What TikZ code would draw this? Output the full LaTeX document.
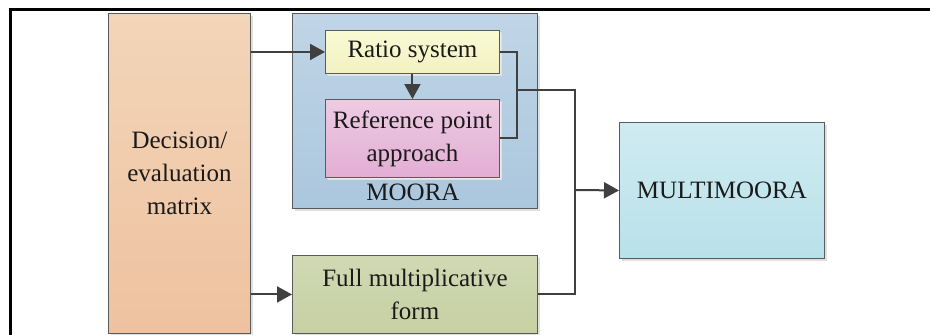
\documentclass[tikz,border=0pt]{standalone}
\usepackage{fontspec}
\setmainfont{Liberation Serif}
\usetikzlibrary{arrows.meta,shadows}
\definecolor{linec}{HTML}{404040}
\definecolor{edgec}{HTML}{5A5A5A}
\definecolor{txtc}{HTML}{1A1A1A}
\definecolor{decT}{HTML}{F3D5B8}\definecolor{decB}{HTML}{EEC2A0}
\definecolor{mooT}{HTML}{C0D5E7}\definecolor{mooB}{HTML}{ABC7DD}
\definecolor{ratT}{HTML}{FAFAD4}\definecolor{ratB}{HTML}{F1F1C2}
\definecolor{refT}{HTML}{EECBE3}\definecolor{refB}{HTML}{E2AED3}
\definecolor{fulT}{HTML}{D0D9B3}\definecolor{fulB}{HTML}{C6D0A2}
\definecolor{mulT}{HTML}{D0EBF1}\definecolor{mulB}{HTML}{B8E1E9}
\begin{document}
\begin{tikzpicture}[x=1pt,y=-1pt,
  box/.style={draw=edgec, line width=0.9pt, anchor=north west, inner sep=0pt,
    align=center, text=txtc, font=\fontsize{25}{33}\selectfont,
    general shadow={fill=black!12, shadow xshift=3pt, shadow yshift=-3pt}},
  innerbox/.style={box, general shadow={fill=black!8, shadow xshift=2pt, shadow yshift=-2pt}},
  conn/.style={draw=linec, line width=2pt},
  arr/.style={conn, -{Triangle[length=15pt,width=16pt]}},
]
\useasboundingbox (0,0) rectangle (930,335);
\fill[white] (0,0) rectangle (930,335);
\draw[line width=3pt] (10.5,336) -- (10.5,9) -- (931,9);

\node[box, minimum width=142pt, minimum height=320pt, top color=decT, bottom color=decB] (dec) at (108,13) {Decision/\\evaluation\\matrix};
\node[box, minimum width=245pt, minimum height=195pt, top color=mooT, bottom color=mooB] (moora) at (292,13) {};
\node[innerbox, minimum width=174pt, minimum height=43pt, top color=ratT, bottom color=ratB] (ratio) at (325,30) {Ratio system};
\node[innerbox, minimum width=174pt, minimum height=78pt, top color=refT, bottom color=refB] (ref) at (325,99) {Reference point\\approach};
\node[text=txtc, font=\fontsize{25}{33}\selectfont, inner sep=0pt] (mlabel) at (413,192) {MOORA};
\node[box, minimum width=245pt, minimum height=78pt, top color=fulT, bottom color=fulB] (full) at (292,255) {Full multiplicative\\form};
\node[box, minimum width=205pt, minimum height=136pt, top color=mulT, bottom color=mulB] (multi) at (619,122) {MULTIMOORA};

\draw[arr] (dec.east |- ratio.west) -- (ratio.west);
\draw[arr] (dec.east |- full.west) -- (full.west);
\draw[arr] (ratio.south) -- (ref.north);
\coordinate (j1) at (516,90);
\coordinate (jm) at (575,190);
\draw[conn] (ratio.east) -- ++(17,0) |- (ref.east);
\draw[conn] (j1) -| (jm) |- (full.east);
\draw[arr] (jm) -- (multi.west);
\end{tikzpicture}
\end{document}
